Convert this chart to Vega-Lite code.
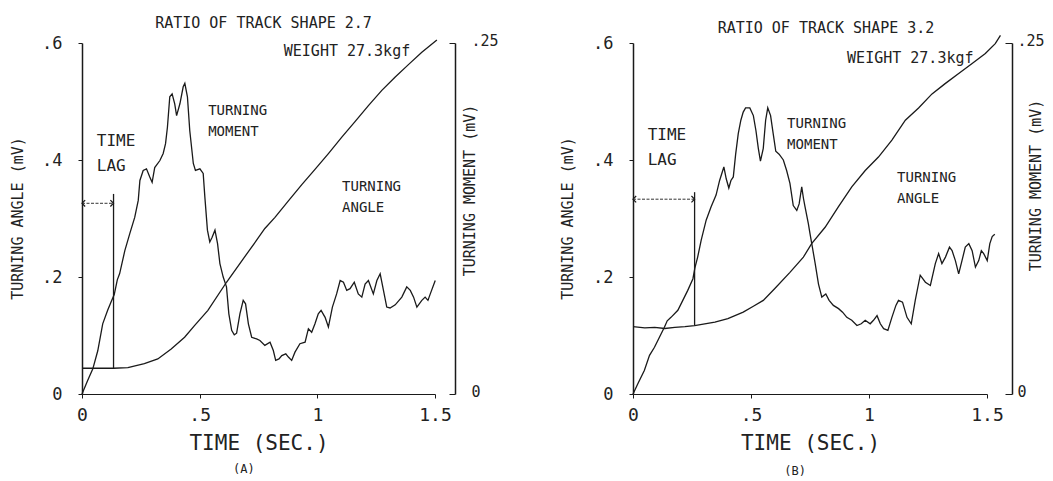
{
  "$schema": "https://vega.github.io/schema/vega-lite/v6.json",
  "background": "white",
  "padding": {"left": 10, "top": 16, "right": 5, "bottom": 2},
  "config": {
    "view": {"stroke": null},
    "font": "DejaVu Sans Mono",
    "axis": {
      "labelFont": "DejaVu Sans Mono", "titleFont": "DejaVu Sans Mono",
      "domainColor": "#1a1a1a", "tickColor": "#1a1a1a", "labelColor": "#222", "titleColor": "#222",
      "grid": false, "titleFontWeight": "normal", "labelFlush": false, "labelOverlap": false
    },
    "title": {"font": "DejaVu Sans Mono", "fontWeight": "normal", "color": "#222"},
    "text": {"font": "DejaVu Sans Mono", "color": "#222"}
  },
  "datasets": {
    "angleA": [
      {"t":0,"v":0.044},{"t":0.134,"v":0.044},{"t":0.195,"v":0.045},{"t":0.265,"v":0.052},{"t":0.322,"v":0.06},
      {"t":0.379,"v":0.077},{"t":0.436,"v":0.097},{"t":0.478,"v":0.117},{"t":0.535,"v":0.143},{"t":0.614,"v":0.191},
      {"t":0.742,"v":0.263},{"t":0.777,"v":0.283},{"t":0.82,"v":0.302},{"t":0.877,"v":0.33},{"t":0.934,"v":0.358},
      {"t":0.99,"v":0.384},{"t":1.047,"v":0.411},{"t":1.104,"v":0.439},{"t":1.161,"v":0.466},{"t":1.217,"v":0.493},
      {"t":1.274,"v":0.519},{"t":1.331,"v":0.542},{"t":1.387,"v":0.563},{"t":1.444,"v":0.584},{"t":1.508,"v":0.605}
    ],
    "momentA": [
      {"t":0,"m":0},{"t":0.024,"m":0.0096},{"t":0.046,"m":0.0179},{"t":0.067,"m":0.0308},{"t":0.088,"m":0.05},
      {"t":0.109,"m":0.0596},{"t":0.123,"m":0.0654},{"t":0.137,"m":0.0708},{"t":0.15,"m":0.0813},{"t":0.16,"m":0.0858},
      {"t":0.182,"m":0.1021},{"t":0.203,"m":0.1142},{"t":0.224,"m":0.1258},{"t":0.239,"m":0.1379},{"t":0.246,"m":0.1521},
      {"t":0.26,"m":0.1592},{"t":0.274,"m":0.1604},{"t":0.288,"m":0.1546},{"t":0.298,"m":0.1508},{"t":0.309,"m":0.1613},
      {"t":0.331,"m":0.1663},{"t":0.345,"m":0.1713},{"t":0.355,"m":0.1783},{"t":0.363,"m":0.19},{"t":0.373,"m":0.2117},
      {"t":0.383,"m":0.2138},{"t":0.394,"m":0.2067},{"t":0.402,"m":0.1983},{"t":0.416,"m":0.2067},{"t":0.43,"m":0.2188},
      {"t":0.437,"m":0.2213},{"t":0.448,"m":0.2117},{"t":0.458,"m":0.1875},{"t":0.473,"m":0.1642},{"t":0.482,"m":0.1592},
      {"t":0.501,"m":0.1604},{"t":0.515,"m":0.1571},{"t":0.522,"m":0.1404},{"t":0.533,"m":0.1167},{"t":0.543,"m":0.1083},
      {"t":0.553,"m":0.1117},{"t":0.565,"m":0.1167},{"t":0.576,"m":0.1071},{"t":0.586,"m":0.0929},{"t":0.6,"m":0.0833},
      {"t":0.614,"m":0.0763},{"t":0.624,"m":0.0571},{"t":0.636,"m":0.0454},{"t":0.647,"m":0.0421},{"t":0.657,"m":0.0433},
      {"t":0.671,"m":0.0571},{"t":0.685,"m":0.0667},{"t":0.695,"m":0.0642},{"t":0.707,"m":0.05},{"t":0.721,"m":0.0404},
      {"t":0.742,"m":0.0392},{"t":0.756,"m":0.0381},{"t":0.777,"m":0.0346},{"t":0.799,"m":0.0369},{"t":0.813,"m":0.031},
      {"t":0.823,"m":0.0239},{"t":0.837,"m":0.025},{"t":0.849,"m":0.0274},{"t":0.866,"m":0.0286},{"t":0.877,"m":0.0263},
      {"t":0.891,"m":0.0239},{"t":0.905,"m":0.0298},{"t":0.926,"m":0.0358},{"t":0.948,"m":0.0369},{"t":0.962,"m":0.0465},
      {"t":0.976,"m":0.044},{"t":0.99,"m":0.05},{"t":1.004,"m":0.0571},{"t":1.016,"m":0.0596},{"t":1.033,"m":0.0546},
      {"t":1.047,"m":0.0477},{"t":1.064,"m":0.0619},{"t":1.082,"m":0.0713},{"t":1.097,"m":0.0808},{"t":1.111,"m":0.0796},
      {"t":1.125,"m":0.0738},{"t":1.139,"m":0.075},{"t":1.157,"m":0.0796},{"t":1.174,"m":0.0713},{"t":1.189,"m":0.069},
      {"t":1.203,"m":0.0783},{"t":1.217,"m":0.0808},{"t":1.238,"m":0.0713},{"t":1.253,"m":0.0808},{"t":1.267,"m":0.0856},
      {"t":1.281,"m":0.0738},{"t":1.295,"m":0.0619},{"t":1.309,"m":0.0613},{"t":1.331,"m":0.0635},{"t":1.359,"m":0.069},
      {"t":1.38,"m":0.0763},{"t":1.395,"m":0.0738},{"t":1.409,"m":0.069},{"t":1.423,"m":0.0619},{"t":1.444,"m":0.0667},
      {"t":1.458,"m":0.069},{"t":1.47,"m":0.0667},{"t":1.48,"m":0.0713},{"t":1.501,"m":0.0808}
    ],
    "angleB": [
      {"t":0,"v":0.115},{"t":0.05,"v":0.113},{"t":0.092,"v":0.114},{"t":0.135,"v":0.112},{"t":0.177,"v":0.114},
      {"t":0.22,"v":0.115},{"t":0.261,"v":0.117},{"t":0.304,"v":0.12},{"t":0.347,"v":0.123},{"t":0.402,"v":0.129},
      {"t":0.432,"v":0.134},{"t":0.467,"v":0.14},{"t":0.51,"v":0.15},{"t":0.552,"v":0.16},{"t":0.6,"v":0.18},
      {"t":0.665,"v":0.208},{"t":0.722,"v":0.234},{"t":0.757,"v":0.257},{"t":0.814,"v":0.285},{"t":0.87,"v":0.32},
      {"t":0.927,"v":0.354},{"t":0.984,"v":0.382},{"t":1.04,"v":0.405},{"t":1.097,"v":0.434},{"t":1.154,"v":0.468},
      {"t":1.21,"v":0.489},{"t":1.267,"v":0.513},{"t":1.324,"v":0.531},{"t":1.38,"v":0.548},{"t":1.437,"v":0.565},
      {"t":1.493,"v":0.582},{"t":1.535,"v":0.599},{"t":1.557,"v":0.613}
    ],
    "momentB": [
      {"t":0,"m":0},{"t":0.02,"m":0.0071},{"t":0.048,"m":0.0167},{"t":0.07,"m":0.0275},{"t":0.091,"m":0.0333},
      {"t":0.112,"m":0.0404},{"t":0.133,"m":0.0475},{"t":0.145,"m":0.0521},{"t":0.161,"m":0.0546},{"t":0.19,"m":0.0596},
      {"t":0.211,"m":0.0667},{"t":0.232,"m":0.0738},{"t":0.254,"m":0.0821},{"t":0.262,"m":0.0896},{"t":0.274,"m":0.0975},
      {"t":0.289,"m":0.1096},{"t":0.31,"m":0.1238},{"t":0.331,"m":0.1333},{"t":0.352,"m":0.1417},{"t":0.367,"m":0.1521},
      {"t":0.385,"m":0.1617},{"t":0.395,"m":0.1533},{"t":0.406,"m":0.1467},{"t":0.415,"m":0.1521},{"t":0.425,"m":0.1546},
      {"t":0.435,"m":0.1708},{"t":0.446,"m":0.1854},{"t":0.457,"m":0.195},{"t":0.467,"m":0.2008},{"t":0.477,"m":0.2038},
      {"t":0.495,"m":0.2038},{"t":0.51,"m":0.1983},{"t":0.521,"m":0.1875},{"t":0.531,"m":0.175},{"t":0.54,"m":0.1658},
      {"t":0.552,"m":0.175},{"t":0.562,"m":0.195},{"t":0.571,"m":0.2038},{"t":0.583,"m":0.1983},{"t":0.594,"m":0.1854},
      {"t":0.605,"m":0.1729},{"t":0.619,"m":0.1708},{"t":0.637,"m":0.1667},{"t":0.651,"m":0.1592},{"t":0.665,"m":0.15},
      {"t":0.679,"m":0.1342},{"t":0.694,"m":0.1308},{"t":0.704,"m":0.1354},{"t":0.715,"m":0.1475},{"t":0.722,"m":0.1396},
      {"t":0.729,"m":0.1333},{"t":0.743,"m":0.1213},{"t":0.75,"m":0.1142},{"t":0.76,"m":0.1046},{"t":0.772,"m":0.0929},
      {"t":0.786,"m":0.0783},{"t":0.8,"m":0.069},{"t":0.817,"m":0.0713},{"t":0.831,"m":0.0667},{"t":0.849,"m":0.0631},
      {"t":0.871,"m":0.0608},{"t":0.888,"m":0.0583},{"t":0.906,"m":0.0546},{"t":0.927,"m":0.0525},{"t":0.949,"m":0.0488},
      {"t":0.967,"m":0.05},{"t":0.984,"m":0.0525},{"t":1.005,"m":0.05},{"t":1.019,"m":0.0525},{"t":1.034,"m":0.0558},
      {"t":1.048,"m":0.05},{"t":1.062,"m":0.0465},{"t":1.08,"m":0.0453},{"t":1.097,"m":0.0546},{"t":1.114,"m":0.0631},
      {"t":1.125,"m":0.0667},{"t":1.142,"m":0.0654},{"t":1.161,"m":0.0546},{"t":1.179,"m":0.05},{"t":1.196,"m":0.0667},
      {"t":1.217,"m":0.0846},{"t":1.239,"m":0.0796},{"t":1.26,"m":0.0773},{"t":1.281,"m":0.0929},{"t":1.295,"m":0.1},
      {"t":1.309,"m":0.0929},{"t":1.324,"m":0.0975},{"t":1.341,"m":0.1046},{"t":1.352,"m":0.1021},{"t":1.366,"m":0.095},
      {"t":1.38,"m":0.0856},{"t":1.394,"m":0.095},{"t":1.408,"m":0.1046},{"t":1.423,"m":0.1071},{"t":1.437,"m":0.1021},
      {"t":1.451,"m":0.0904},{"t":1.465,"m":0.095},{"t":1.476,"m":0.1021},{"t":1.486,"m":0.1},{"t":1.501,"m":0.095},
      {"t":1.512,"m":0.1071},{"t":1.522,"m":0.1121},{"t":1.533,"m":0.1138}
    ],
    "lagA": [{"t":0.134,"v":0.044,"v2":0.342}],
    "arrowA": [{"t":0,"t2":0.134,"v":0.326}],
    "lagB": [{"t":0.261,"v":0.117,"v2":0.345}],
    "arrowB": [{"t":0,"t2":0.261,"v":0.333}],
    "lagTextA": [{"label":"TIME\nLAG","t":0.063,"v":0.447}],
    "notesA": [{"label":"TURNING\nMOMENT","t":0.536,"v":0.495},{"label":"TURNING\nANGLE","t":1.105,"v":0.365}],
    "weightA": [{"label":"WEIGHT 27.3kgf","t":1.126,"v":0.587}],
    "capA": [{"label":"(A)","t":0.688,"v":-0.129}],
    "lagTextB": [{"label":"TIME\nLAG","t":0.062,"v":0.456}],
    "notesB": [{"label":"TURNING\nMOMENT","t":0.653,"v":0.473},{"label":"TURNING\nANGLE","t":1.119,"v":0.382}],
    "weightB": [{"label":"WEIGHT 27.3kgf","t":1.175,"v":0.574}],
    "capB": [{"label":"(B)","t":0.687,"v":-0.131}]
  },
  "bounds": "flush",
  "spacing": 198,
  "hconcat": [
    {
      "width": 353, "height": 351,
      "title": {"text": "RATIO OF TRACK SHAPE 2.7", "fontSize": 15, "frame": "group", "offset": 2, "dx": 5},
      "layer": [
        {
          "layer": [
            {
              "data": {"name": "angleA"},
              "mark": {"type": "line", "color": "#1a1a1a", "strokeWidth": 1.3},
              "encoding": {
                "x": {"field": "t", "type": "quantitative", "scale": {"domain": [0, 1.5], "nice": false},
                  "axis": {"values": [0, 0.5, 1, 1.5], "labelExpr": "datum.value === 0 ? '0' : datum.value === 1 ? '1' : datum.value === 0.5 ? '.5' : '1.5'",
                    "tickSize": 4, "labelPadding": 8, "labelFontSize": 18, "title": "TIME (SEC.)", "titleFontSize": 21, "titlePadding": 8, "domainWidth": 1}},
                "y": {"field": "v", "type": "quantitative", "scale": {"domain": [0, 0.6], "nice": false},
                  "axis": {"orient": "left", "values": [0, 0.2, 0.4, 0.6], "labelExpr": "datum.value === 0 ? '0' : '.' + format(datum.value * 10, 'd')",
                    "tickSize": 4, "labelPadding": 16, "labelFontSize": 17, "title": "TURNING ANGLE (mV)", "titleFontSize": 15,
                    "titleAngle": 270, "titleX": -65, "titleY": 175, "titleAlign": "center", "titleBaseline": "middle", "domainWidth": 1.5}}
              }
            },
            {
              "data": {"name": "lagA"},
              "mark": {"type": "rule", "color": "#1a1a1a", "strokeWidth": 1.3},
              "encoding": {"x": {"field": "t", "type": "quantitative"}, "y": {"field": "v", "type": "quantitative"}, "y2": {"field": "v2"}}
            },
            {
              "data": {"name": "arrowA"},
              "mark": {"type": "rule", "color": "#333", "strokeWidth": 1, "strokeDash": [3, 1.5]},
              "encoding": {"x": {"field": "t", "type": "quantitative"}, "x2": {"field": "t2"}, "y": {"field": "v", "type": "quantitative"}}
            },
            {
              "data": {"name": "arrowA"},
              "mark": {"type": "point", "shape": "M1,-1L0,0L1,1", "filled": false, "stroke": "#1a1a1a", "strokeWidth": 1.2, "size": 40, "opacity": 1},
              "encoding": {"x": {"field": "t", "type": "quantitative"}, "y": {"field": "v", "type": "quantitative"}}
            },
            {
              "data": {"name": "arrowA"},
              "mark": {"type": "point", "shape": "M-1,-1L0,0L-1,1", "filled": false, "stroke": "#1a1a1a", "strokeWidth": 1.2, "size": 40, "opacity": 1},
              "encoding": {"x": {"field": "t2", "type": "quantitative"}, "y": {"field": "v", "type": "quantitative"}}
            },
            {
              "data": {"name": "lagTextA"},
              "mark": {"type": "text", "align": "left", "baseline": "top", "lineBreak": "\n", "lineHeight": 25, "fontSize": 16},
              "encoding": {"x": {"field": "t", "type": "quantitative"}, "y": {"field": "v", "type": "quantitative"}, "text": {"field": "label"}}
            },
            {
              "data": {"name": "notesA"},
              "mark": {"type": "text", "align": "left", "baseline": "top", "lineBreak": "\n", "lineHeight": 21, "fontSize": 14},
              "encoding": {"x": {"field": "t", "type": "quantitative"}, "y": {"field": "v", "type": "quantitative"}, "text": {"field": "label"}}
            },
            {
              "data": {"name": "weightA"},
              "mark": {"type": "text", "align": "center", "baseline": "middle", "fontSize": 15},
              "encoding": {"x": {"field": "t", "type": "quantitative"}, "y": {"field": "v", "type": "quantitative"}, "text": {"field": "label"}}
            },
            {
              "data": {"name": "capA"},
              "mark": {"type": "text", "align": "center", "baseline": "middle", "fontSize": 12},
              "encoding": {"x": {"field": "t", "type": "quantitative"}, "y": {"field": "v", "type": "quantitative"}, "text": {"field": "label"}}
            }
          ]
        },
        {
          "data": {"name": "momentA"},
          "mark": {"type": "line", "color": "#1a1a1a", "strokeWidth": 1.3},
          "encoding": {
            "x": {"field": "t", "type": "quantitative"},
            "y": {"field": "m", "type": "quantitative", "scale": {"domain": [0, 0.25], "nice": false},
              "axis": {"orient": "right", "offset": 20, "values": [0, 0.25], "labelExpr": "datum.value === 0 ? '0' : '.25'",
                "tickSize": -6, "labelPadding": 22, "labelFontSize": 15, "labelAlign": "left", "labelBaseline": "middle", "labelOffset": -3,
                "title": "TURNING MOMENT (mV)", "titleFontSize": 15, "titleAngle": 270, "titleX": 14, "titleY": 147,
                "titleAlign": "center", "titleBaseline": "middle", "domainWidth": 1.5,
                "encode": {"ticks": {"update": {"x2": {"signal": "datum.value === 0 ? -20 : -6"}}}}}}
          }
        }
      ],
      "resolve": {"scale": {"y": "independent"}}
    },
    {
      "width": 354, "height": 351,
      "title": {"text": "RATIO OF TRACK SHAPE 3.2", "fontSize": 15, "frame": "group", "offset": -3, "dx": 16},
      "layer": [
        {
          "layer": [
            {
              "data": {"name": "angleB"},
              "mark": {"type": "line", "color": "#1a1a1a", "strokeWidth": 1.3},
              "encoding": {
                "x": {"field": "t", "type": "quantitative", "scale": {"domain": [0, 1.5], "nice": false},
                  "axis": {"values": [0, 0.5, 1, 1.5], "labelExpr": "datum.value === 0 ? '0' : datum.value === 1 ? '1' : datum.value === 0.5 ? '.5' : '1.5'",
                    "tickSize": 4, "labelPadding": 8, "labelFontSize": 18, "title": "TIME (SEC.)", "titleFontSize": 21, "titlePadding": 8, "domainWidth": 1}},
                "y": {"field": "v", "type": "quantitative", "scale": {"domain": [0, 0.6], "nice": false},
                  "axis": {"orient": "left", "values": [0, 0.2, 0.4, 0.6], "labelExpr": "datum.value === 0 ? '0' : '.' + format(datum.value * 10, 'd')",
                    "tickSize": 4, "labelPadding": 16, "labelFontSize": 17, "title": "TURNING ANGLE (mV)", "titleFontSize": 15,
                    "titleAngle": 270, "titleX": -66, "titleY": 175, "titleAlign": "center", "titleBaseline": "middle", "domainWidth": 1.5}}
              }
            },
            {
              "data": {"name": "lagB"},
              "mark": {"type": "rule", "color": "#1a1a1a", "strokeWidth": 1.3},
              "encoding": {"x": {"field": "t", "type": "quantitative"}, "y": {"field": "v", "type": "quantitative"}, "y2": {"field": "v2"}}
            },
            {
              "data": {"name": "arrowB"},
              "mark": {"type": "rule", "color": "#333", "strokeWidth": 1, "strokeDash": [3, 1.5]},
              "encoding": {"x": {"field": "t", "type": "quantitative"}, "x2": {"field": "t2"}, "y": {"field": "v", "type": "quantitative"}}
            },
            {
              "data": {"name": "arrowB"},
              "mark": {"type": "point", "shape": "M1,-1L0,0L1,1", "filled": false, "stroke": "#1a1a1a", "strokeWidth": 1.2, "size": 40, "opacity": 1},
              "encoding": {"x": {"field": "t", "type": "quantitative"}, "y": {"field": "v", "type": "quantitative"}}
            },
            {
              "data": {"name": "arrowB"},
              "mark": {"type": "point", "shape": "M-1,-1L0,0L-1,1", "filled": false, "stroke": "#1a1a1a", "strokeWidth": 1.2, "size": 40, "opacity": 1},
              "encoding": {"x": {"field": "t2", "type": "quantitative"}, "y": {"field": "v", "type": "quantitative"}}
            },
            {
              "data": {"name": "lagTextB"},
              "mark": {"type": "text", "align": "left", "baseline": "top", "lineBreak": "\n", "lineHeight": 25, "fontSize": 16},
              "encoding": {"x": {"field": "t", "type": "quantitative"}, "y": {"field": "v", "type": "quantitative"}, "text": {"field": "label"}}
            },
            {
              "data": {"name": "notesB"},
              "mark": {"type": "text", "align": "left", "baseline": "top", "lineBreak": "\n", "lineHeight": 21, "fontSize": 14},
              "encoding": {"x": {"field": "t", "type": "quantitative"}, "y": {"field": "v", "type": "quantitative"}, "text": {"field": "label"}}
            },
            {
              "data": {"name": "weightB"},
              "mark": {"type": "text", "align": "center", "baseline": "middle", "fontSize": 15},
              "encoding": {"x": {"field": "t", "type": "quantitative"}, "y": {"field": "v", "type": "quantitative"}, "text": {"field": "label"}}
            },
            {
              "data": {"name": "capB"},
              "mark": {"type": "text", "align": "center", "baseline": "middle", "fontSize": 12},
              "encoding": {"x": {"field": "t", "type": "quantitative"}, "y": {"field": "v", "type": "quantitative"}, "text": {"field": "label"}}
            }
          ]
        },
        {
          "data": {"name": "momentB"},
          "mark": {"type": "line", "color": "#1a1a1a", "strokeWidth": 1.3},
          "encoding": {
            "x": {"field": "t", "type": "quantitative"},
            "y": {"field": "m", "type": "quantitative", "scale": {"domain": [0, 0.25], "nice": false},
              "axis": {"orient": "right", "offset": 25, "values": [0, 0.25], "labelExpr": "datum.value === 0 ? '0' : '.25'",
                "tickSize": -7, "labelPadding": 12, "labelFontSize": 15, "labelAlign": "left", "labelBaseline": "middle", "labelOffset": -3,
                "title": "TURNING MOMENT (mV)", "titleFontSize": 15, "titleAngle": 270, "titleX": 23, "titleY": 142,
                "titleAlign": "center", "titleBaseline": "middle", "domainWidth": 1.5}}
          }
        }
      ],
      "resolve": {"scale": {"y": "independent"}}
    }
  ]
}
